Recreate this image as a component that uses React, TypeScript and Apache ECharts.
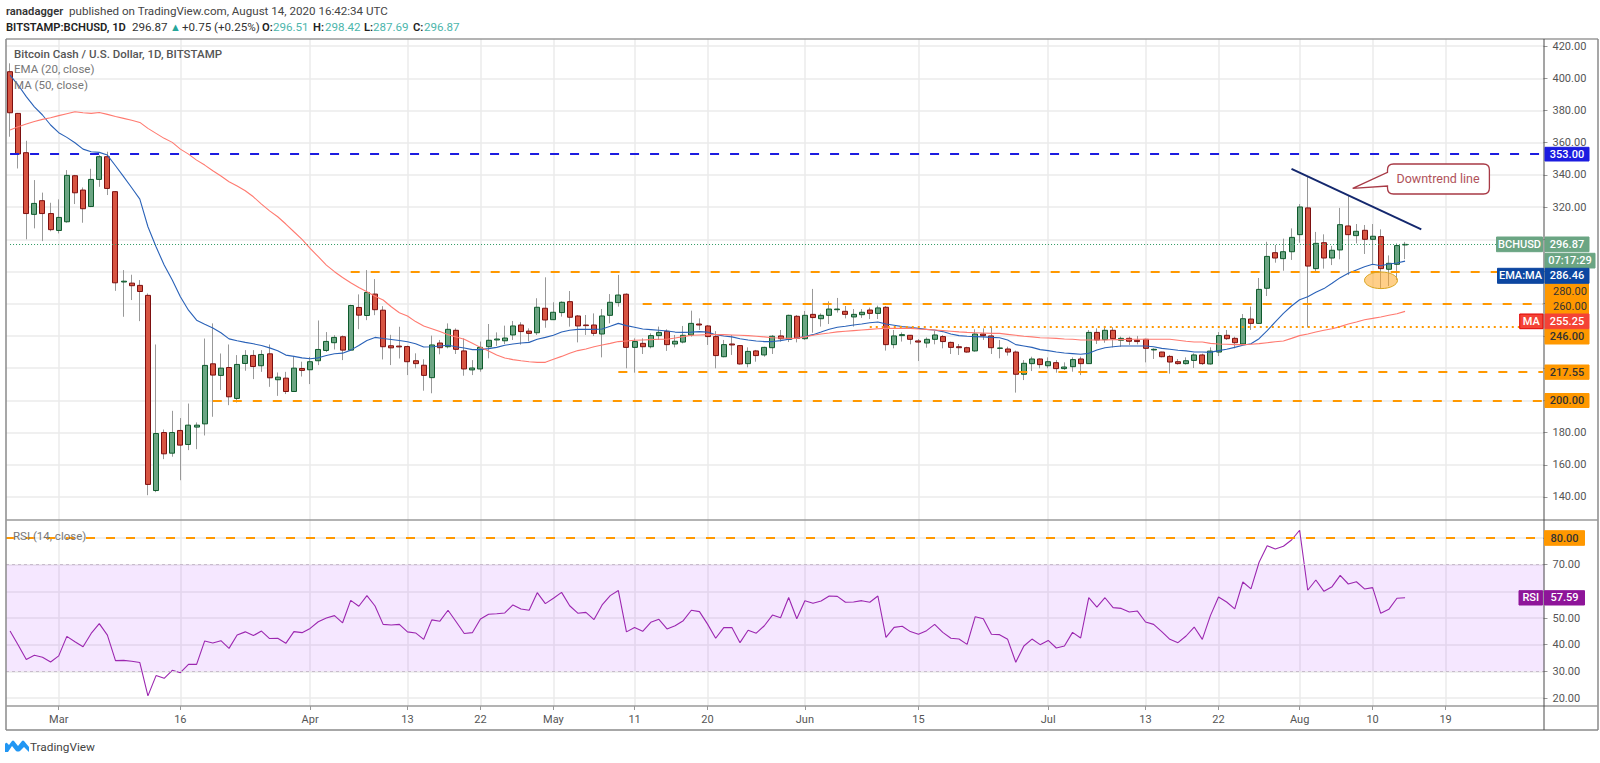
import React, { useEffect, useRef } from "react";
import * as echarts from "echarts";

const opens = [404.1,378.2,353.8,315.5,324,316,305.5,310.9,339.5,330.6,
320.4,337.2,351.3,329.6,273.5,272.8,271.4,265.2,144,180,
167.2,181.3,172.6,183.4,185.4,222.7,215.5,220.4,201.2,222.9,
227.9,221.5,228.9,212.8,213.8,205.5,219.8,219,224.6,231,
235.8,239.5,231.2,257.7,252.7,266,256,233.9,233.7,233.4,
224.6,221.8,214.1,235.6,233.3,243.5,230.7,218.9,219.5,233.3,
237.5,237,240.6,246.8,243,242,257.2,250.1,254.5,261.3,
252.4,246.8,246.8,241.2,252.8,260.7,265.9,232.9,235.4,233.3,
240.2,242.9,235,236.2,240.6,247.4,246.2,239.6,227.1,235,
234,222.8,230.7,228.2,232.7,240,237.9,252.2,238.3,253.4,
250.7,252.8,256.3,255.3,251.8,253.2,256.1,254,257.8,234.6,
240.2,240.4,236.9,235.6,237.9,239.6,236,233.3,232.7,230.7,
241.2,240,232.3,231.9,230,216.2,222.8,225.7,221.5,223.4,
219.7,220.9,225.7,222.8,242.2,237.7,243.5,237.3,238.5,237.3,
237.9,231.3,230,227.3,224,222.8,224.8,228.2,222.6,230,
240.4,238.5,235,250.5,247.8,269.6,291.7,288,292.3,302.9,
319.5,281.8,297.9,288.4,293.4,308.3,302.3,305.6,300,301.7,
281.4,284.5,296.51];

const closes = [378.6,353,316,322.3,316,306,313.6,339.7,328.9,319,
337.2,351.3,331.6,273,274,271.2,267.6,147.8,179.4,166.8,
180,172.2,184.6,184.6,221.7,215.7,220,202.2,222.3,227.9,
221,228.5,214,214.4,205.5,220,218.6,224,231.6,236.6,
239.1,231.2,258.9,252.9,267,256.3,233.3,232.6,233.2,224,
222.8,215.5,234.4,232.7,244.1,231.7,219.5,220.1,232.9,237.3,
238.1,238.7,246.2,242.7,241.6,257.8,249.9,254.7,260.9,251.6,
246.2,246.4,241.6,252.4,260.9,265.4,232.9,236.5,233.3,240.2,
242.2,234.6,236.7,240.4,247.8,246.8,239.6,227.8,234.6,234.4,
222.6,230.4,227.8,232.9,239.8,238.3,252.8,238.5,252.8,251.4,
252.8,256.7,256.7,253.4,253.4,254.7,254,257.4,234.6,240,
240.8,237.9,236.2,237.9,240.6,236.5,232.9,232.7,230,241.2,
240.2,232.7,232.5,230,216.2,223,225.7,222.2,224,219.7,
220.7,225.3,222.8,242.2,237.5,243.5,238.3,238.5,236.7,236.5,
232.3,231.7,227.1,223.8,222.8,224.6,228.2,222.8,230.6,240.2,
238.3,235.8,250.7,247.8,268.9,289.4,288.4,292.3,301.2,320.1,
283.4,297.5,288.4,293.2,309.1,302.9,305,300,301.9,281.8,
285.1,296.12,296.87];

const highs = [409.3,378.5,361.2,336.8,329,322.7,324.8,343,340,332.2,
343.8,352.3,354.4,330,280.9,278,274.7,266.4,234.7,181.9,
193.5,189,198,186.3,238.4,247.8,229.1,234.7,228.1,231.2,
231.2,231.2,234.7,217.3,217.7,227,224,227,249.6,242.4,
240.5,240.3,259.4,265.8,280.9,275.3,258.5,240.7,245.7,234,
229.2,225.5,240.2,237.5,247.8,244.7,238.5,225,236.5,247.4,
242.2,246.4,249.3,248.5,244.7,263.4,276.4,260.9,261.5,267.9,
253,253,254,256.7,266,277.9,266.5,238.5,238.5,241.6,
245.8,244.1,240.6,246.2,255.7,250.9,246.8,243,237.5,240.6,
234.2,232.9,231.3,233.3,240.6,243.7,253.2,253,255.5,269.2,
254,261.5,263.6,258.6,256.7,256.7,257.6,258.8,258.6,243.7,
242.2,240.6,238.1,239.1,243.3,240.6,236.5,235,233.3,244.1,
244.7,245.8,237.5,233.3,230.9,225,227.1,226.1,226.7,225,
223.6,226.7,227.1,243.7,244.7,246.2,245.4,239.6,239.6,240,
238.3,232.3,230.2,228.2,225.7,226.7,229.2,229,232.9,242.4,
243.7,239.5,253.6,258.2,276,298.5,296.5,300.4,306.8,321.9,
339.3,304.6,303.1,295.9,319.5,326.9,309.5,308.9,309.5,306.2,
290,297.5,298.42];

const lows = [363.7,344,300,306.8,298.9,305,303.7,310.3,321.9,310.3,
320,332.6,327.5,268,251.9,262.3,249.2,141.1,143,163.5,
165,150.4,169.1,169.7,178.2,189.8,206.4,197,198.7,218.4,
213.2,217.7,208.4,202.8,203.9,205.3,214.8,210.1,221.9,230,
231.6,225,231,244.2,249.8,252.9,225.4,221.9,226,215.7,
219.9,206,204.4,228.6,232.3,228.8,215.3,215.7,217.8,226.1,
233.8,235,237.5,234.6,236.5,240.6,245.1,249.9,252,245.8,
236,240.6,240,226.7,247.8,258.2,219.9,217.2,228.8,232.3,
237.5,230.7,232.9,235.4,239.6,243.7,234.4,219.9,226.7,228.2,
222.2,220.5,224,227.1,228.8,236.5,236.2,236,237.5,242,
245.8,247.4,254.5,250.9,245.8,251.2,250.5,250.5,230.9,232.3,
236.5,234.8,224.4,232.7,234.8,232.3,228.8,228.2,229.6,230.2,
237.5,228.8,226.1,227.8,204.8,212.6,218.2,219.9,219.9,217.2,
218.9,217.8,215.7,222.6,235,235.8,232.9,233.3,234.4,234.8,
223.6,225.7,226.7,216.6,222.2,222.2,220.1,222,222.2,227.5,
237.5,232.3,234.6,243.7,247.4,264.8,285.5,280.5,287.2,297.9,
245.3,279.5,281.8,284,287.6,277.8,297.5,290.9,284,269.6,
271,274.7,287.69];

const ema20 = [402,395.8,388.6,382.3,377.2,371,366.2,363.3,360,356,
354.4,354,352.3,345.7,338.9,332,325,307.8,295.4,284,
274.7,264.3,256,249.8,247.3,244.9,242,238.2,237,236,
235.1,234.1,232.6,230.8,228.1,227.3,226.4,225.8,226.4,227.9,
228.9,229.3,231.2,234.1,237.2,239.1,238.4,237.8,237.2,236.4,
235.2,233.1,233.3,233.8,234.2,233.3,232.5,231.5,231.5,232.1,
232.9,234.2,235,235.6,236,237.9,239.1,240.4,242.4,243.5,
244.1,244.1,244.1,244.3,246,247.8,246.4,245.4,244.3,243.9,
243.5,243.1,242.4,242.2,242.4,242.7,242.4,240.8,240,239.4,
238.3,237.5,236.9,236.5,236.5,237.1,237.9,238.7,239.6,240.8,
242.4,244.1,245.4,246,246.8,247.4,248.2,248.7,247.4,246.6,
245.8,245.4,244.7,244.1,243.7,242.7,241.2,240.2,239.8,239.6,
239.4,239.1,238.9,237.5,234.6,233.8,232.9,231.5,230.9,230,
229.4,229,228.6,229.2,231.3,232.7,233.3,233.8,233.8,233.8,
233.8,233.3,232.3,231.7,231.1,230.7,230,230,229.8,230.9,
231.7,232.9,234.2,235.2,238.3,243.3,248.7,254,258.6,262.5,
264.4,267.1,269.4,272.7,276.2,278.9,281,283,284.5,283.6,
284.7,285.3,286.46];

const ma50 = [367.9,369.9,371.6,373.2,374.5,375.5,376.8,378,379.2,378.6,
378.2,378.8,377.6,376.3,375.1,373.9,372.6,368.9,365.8,362.7,
360.2,356,352.9,349.2,346.1,342.6,339.3,335.8,333.1,330.2,
326.4,321.9,317.7,314,309.5,304.7,300,294.4,289.2,284,
279.9,276.3,273,270.1,267.4,264.7,262.3,258.1,254.4,252.4,
248.9,246.2,244.5,242.7,240.8,239.4,237.9,235.4,232.9,230.6,
228.2,226.3,225.3,224.6,224,223.6,223.6,225.5,227.3,229.2,
230.9,231.9,233.3,234.4,235.4,236.5,236.9,237.3,237.5,237.7,
237.9,237.9,238.7,239.6,240.4,240.6,240.8,240.8,240.8,240.6,
240.4,240.2,239.8,239.4,238.9,238.7,238.5,238.5,239.4,240.4,
241.2,241.8,242.5,242.9,243.3,243.7,244.1,244.5,244.7,244.7,
244.7,244.7,244.3,244.1,243.7,243.3,242.9,242.5,242.2,242,
241.8,241.6,241.6,241,240.4,239.8,239.4,238.9,238.7,238.5,
238.1,237.9,237.5,237.5,237.5,237.5,237.7,237.7,237.9,237.9,
237.9,237.9,237.9,237.9,237.3,236.7,236.2,236.2,235.4,235,
234.8,234.6,234.6,234.8,235.2,235.8,236.4,236.9,238.5,240.2,
241.2,242.4,243.5,244.5,245.8,247.4,248.7,250.1,250.9,251.8,
252.8,253.8,255.25];

const rsi14 = [45.1,39.9,34.4,36,35.3,33.5,35.8,43.1,41.1,39.2,
44.2,47.9,43.6,34,34.1,33.8,33.3,20.8,28.4,27.4,
30.4,29.5,32.6,32.6,41.4,40.6,41.5,38.6,43.6,44.8,
43.4,45.1,42.3,42.4,40.5,44.9,44.5,46.1,48.6,50,
50.9,48.2,56.6,54.4,58.4,54.5,47.6,47.4,47.6,44.8,
44.4,42,49.3,48.8,52.9,48.6,44.2,44.5,49.6,51.4,
51.6,51.9,54.9,53.4,52.9,59.5,55.4,57.4,59.6,54.6,
51.8,52.1,49.4,54.9,58.4,60.3,44.8,46.4,45,48.4,
49.5,45.9,47.1,49,52.9,52.4,47.7,42.4,46.4,46.4,
40.75,45.4,44.3,47.1,51.1,50.1,57.7,49.7,56.5,55.5,
56.4,58.25,58.1,55.9,56,56.5,55.9,58.25,42.75,46.5,
46.9,44.9,43.9,45.25,47.6,44.6,42.4,42.1,40.1,50.5,
49.75,43.9,43.75,42,33.4,39.5,42.1,40,41.6,38.75,
39.5,44.6,42.5,57.6,54.1,57.6,53.9,53.6,52.25,52.6,
48.5,47.6,44.9,42,40.75,43.25,46.6,42,50.9,57.9,
56,53.4,63.5,60.9,70.9,77.1,75.9,76.9,79.25,82.9,
60.4,64.25,60,61.75,66,62.75,63.6,60.9,61.4,51.75,
53.25,57.4,57.59];

const priceTicks = [140,160,180,200,220,240,260,280,300,320,340,360,380,400,420];
const priceLabels = [140,160,180,320,340,360,380,400,420];
const rsiTicks = [20,30,40,50,60,70,80];
const rsiLabels = [20,30,40,50,70];
const tickIndexes = [6,21,37,49,58,67,77,86,98,112,128,140,149,159,168,177];
const tickLabels = ["Mar","16","Apr","13","22","May","11","20","Jun","15","Jul","13","22","Aug","10","19"];

const dashedLevels = [353,280,260,217.55,200];
const dashedStarts = [0,42,78,75,25];
const dottedLevel = 246;
const dottedStart = 106;
const lastPrice = 296.87;
const trendStart = [158,343.7];
const trendEnd = [174,306.2];

const TOTAL = 190;
const categories: string[] = [];
for (let i = 0; i < TOTAL; i++) {
  categories.push(new Date(Date.UTC(2020, 1, 24 + i)).toISOString().slice(0, 10));
}
const tickSet = new Set(tickIndexes);
const labelByCat: Record<string, string> = {};
tickIndexes.forEach((idx, k) => { labelByCat[categories[idx]] = tickLabels[k]; });
const isTick = (i: number) => tickSet.has(i);

const FONT = "Roboto, 'Open Sans', sans-serif";
const ORANGE = "#ff9800";
const LAST = TOTAL - 1;

function box(x: number, y: number, w: number, h: number, fill: string, text: string, color = "#fff", stroke?: string) {
  return [
    { type: "rect", z: 20, silent: true, shape: { x, y, width: w, height: h }, style: { fill, stroke: stroke || fill, lineWidth: 1 } },
    { type: "text", z: 21, silent: true, style: { x: x + w / 2, y: y + h / 2, text, fill: color, font: `500 11px ${FONT}`, textAlign: "center", textVerticalAlign: "middle" } },
  ];
}
function txt(x: number, y: number, text: string, fill: string, font: string) {
  return { type: "text", z: 21, silent: true, style: { x, y, text, fill, font, textAlign: "left", textVerticalAlign: "middle" } };
}
function frameLine(x1: number, y1: number, x2: number, y2: number, stroke: string, lineWidth: number) {
  return { type: "line", z: 19, silent: true, shape: { x1, y1, x2, y2 }, style: { stroke, lineWidth } };
}

export default function App() {
  const ref = useRef<HTMLDivElement>(null);
  useEffect(() => {
    if (!ref.current) return;
    echarts.graphic.registerShape("callout", echarts.graphic.extendPath(
      "M1393.5 164 L1483.4 164 Q1489.4 164 1489.4 170 L1489.4 188 Q1489.4 194 1483.4 194 L1393.5 194 Q1387.5 194 1387.5 188 L1387.5 186 L1352.7 188.3 L1387.5 172.3 L1387.5 170 Q1387.5 164 1393.5 164 Z", {}) as any);
    echarts.graphic.registerShape("tvlogo", echarts.graphic.extendPath(
      "M5 752 L8 752 L12 746 L16 751 Q18 752 20 751 L24 747 L29 752 L29 747 L24 741 Q23 740 22 741 L18 746 L14 741 Q13 740 12 741 L9 745 L7 743 Q6 742 5 744 Z", {}) as any);

    const chart = echarts.init(ref.current, undefined, { renderer: "svg" });
    const wickData = opens.map((o, i) => [o, closes[i], lows[i], highs[i]]);
    const bodyData = opens.map((o, i) => [o, closes[i], Math.min(o, closes[i]), Math.max(o, closes[i])]);

    const levelLines: any[] = dashedLevels.map((v, k) => {
      const color = k === 0 ? "#1c1ce0" : ORANGE;
      return [
        { coord: [categories[dashedStarts[k]], v], lineStyle: { color, type: [9, 11], width: 2 } },
        { coord: [categories[LAST], v] },
      ];
    });
    levelLines.push([
      { coord: [categories[dottedStart], dottedLevel], lineStyle: { color: ORANGE, type: [2, 4], width: 2 } },
      { coord: [categories[LAST], dottedLevel] },
    ]);
    levelLines.push([
      { coord: [categories[0], lastPrice], lineStyle: { color: "#2f9a63", type: [1, 2], width: 1 } },
      { coord: [categories[LAST], lastPrice] },
    ]);
    levelLines.push([
      { coord: [categories[trendStart[0]], trendStart[1]], lineStyle: { color: "#14286e", type: "solid", width: 2 } },
      { coord: [categories[trendEnd[0]], trendEnd[1]] },
    ]);

    const H1 = `400 11.6px ${FONT}`;
    const B1 = `600 11.2px ${FONT}`;
    const graphics: any[] = [
      { type: "rect", z: 5, silent: true, shape: { x: 1544.5, y: 39, width: 4, height: 692 }, style: { fill: "#fff" } },
      frameLine(6, 39, 1598, 39, "#9a9a9a", 1.5),
      frameLine(6, 39, 6, 730, "#8a8a8a", 1.5),
      frameLine(1598, 39, 1598, 730, "#8a8a8a", 1.5),
      frameLine(6, 730, 1598, 730, "#8a8a8a", 1.5),
      frameLine(6, 520, 1598, 520, "#9a9a9a", 1.5),
      frameLine(6, 706, 1598, 706, "#9a9a9a", 1.5),
      frameLine(1544, 39, 1544, 730, "#4a4a4a", 1),
      txt(6, 11, "ranadagger", "#333", B1),
      txt(69, 11, "published on TradingView.com, August 14, 2020 16:42:34 UTC", "#444", H1),
      txt(6, 27, "BITSTAMP:BCHUSD, 1D", "#222", B1),
      txt(132, 27, "296.87", "#333", H1),
      txt(170, 27, "▲", "#26a69a", `400 11px ${FONT}`),
      txt(182, 27, "+0.75 (+0.25%)", "#333", H1),
      txt(262, 27, "O:", "#222", B1),
      txt(273, 27, "296.51", "#4db6ac", H1),
      txt(313, 27, "H:", "#222", B1),
      txt(325, 27, "298.42", "#4db6ac", H1),
      txt(364, 27, "L:", "#222", B1),
      txt(373, 27, "287.69", "#4db6ac", H1),
      txt(413, 27, "C:", "#222", B1),
      txt(424, 27, "296.87", "#4db6ac", H1),
      txt(14, 54, "Bitcoin Cash / U.S. Dollar, 1D, BITSTAMP", "#555", `500 11.5px ${FONT}`),
      txt(14, 69, "EMA (20, close)", "#777", `400 11.5px ${FONT}`),
      txt(14, 85, "MA (50, close)", "#777", `400 11.5px ${FONT}`),
      txt(13, 536, "RSI (14, close)", "#777", `400 11.5px ${FONT}`),
      { type: "callout", z: 18, silent: true, style: { fill: "#fff", stroke: "#a83a46", lineWidth: 1.3 } },
      { type: "text", z: 21, silent: true, style: { x: 1438, y: 178.5, text: "Downtrend line", fill: "#b0525a", font: `400 12.5px ${FONT}`, textAlign: "center", textVerticalAlign: "middle" } },
      { type: "ellipse", z: 6, silent: true, shape: { cx: 1381, cy: 280.3, rx: 16.5, ry: 8.3 }, style: { fill: "rgba(255,167,38,0.55)", stroke: "#d9a520", lineWidth: 1 } },
      ...box(1545, 147.3, 44, 13.7, "#1c1ce0", "353.00"),
      { type: "rect", z: 20, silent: true, shape: { x: 1545, y: 283.3, width: 44, height: 31 }, style: { fill: ORANGE } },
      txt(1553, 291, "280.00", "#333", `400 11px ${FONT}`),
      txt(1553, 306, "260.00", "#333", `400 11px ${FONT}`),
      ...box(1545, 328.7, 44, 15.3, ORANGE, "246.00", "#333"),
      ...box(1545, 365, 44, 14.3, ORANGE, "217.55", "#333"),
      ...box(1545, 393.5, 44, 14, ORANGE, "200.00", "#333"),
      ...box(1496.5, 237, 46, 14.7, "#6ba583", "BCHUSD"),
      ...box(1545, 237, 44, 14.7, "#6ba583", "296.87"),
      ...box(1545, 253.3, 50, 14.7, "#6ba583", "07:17:29"),
      ...box(1497.5, 268.3, 46, 15, "#0d47a1", "EMA:MA"),
      ...box(1545, 268.3, 44, 15, "#0d47a1", "286.46"),
      ...box(1519.7, 314, 23.3, 14.7, "#f44336", "MA", "#fff", "#e00000"),
      ...box(1545, 314, 44, 14.7, "#f44336", "255.25"),
      ...box(1544.5, 530.7, 40, 14.6, ORANGE, "80.00", "#333"),
      ...box(1519, 590.7, 23.6, 14.3, "#8e1599", "RSI"),
      ...box(1544.5, 590.7, 40, 14.3, "#8e1599", "57.59"),
      { type: "tvlogo", z: 21, silent: true, style: { fill: "#2196f3" } },
      txt(30, 747, "TradingView", "#444", `400 11.8px ${FONT}`),
    ];

    const gridLineStyle = { color: "#ebebeb", width: 1.5 };
    chart.setOption({
      animation: false,
      backgroundColor: "#fff",
      grid: [
        { left: 6, top: 39, width: 1541, height: 481, containLabel: false },
        { left: 6, top: 520, width: 1541, height: 186, containLabel: false },
      ],
      xAxis: [
        {
          type: "category", gridIndex: 0, data: categories, boundaryGap: true,
          axisLine: { show: false }, axisTick: { show: false }, axisLabel: { show: false },
          splitLine: { show: true, interval: isTick, alignWithLabel: true, lineStyle: gridLineStyle },
        },
        {
          type: "category", gridIndex: 1, data: categories, boundaryGap: true,
          axisLine: { show: false },
          axisTick: { show: true, interval: isTick, alignWithLabel: true, length: 4, lineStyle: { color: "#999" } },
          axisLabel: {
            show: true, interval: isTick, margin: 8, color: "#555", fontFamily: FONT, fontSize: 11,
            formatter: (v: string) => labelByCat[v] || "",
          },
          splitLine: { show: true, interval: isTick, alignWithLabel: true, lineStyle: gridLineStyle },
        },
      ],
      yAxis: [
        {
          type: "value", gridIndex: 0, position: "right", min: 125.7, max: 424.4, scale: true,
          axisLine: { show: false }, axisLabel: { show: false },
          axisTick: { show: false, customValues: priceTicks },
          splitLine: { show: true, lineStyle: gridLineStyle },
        },
        {
          type: "value", gridIndex: 0, position: "right", offset: -3.5, z: 6, min: 125.7, max: 424.4, scale: true,
          axisLine: { show: false }, splitLine: { show: false },
          axisTick: { show: true, length: 4, lineStyle: { color: "#999" }, customValues: priceTicks },
          axisLabel: {
            show: true, inside: false, margin: 9, color: "#555", fontFamily: FONT, fontSize: 11,
            customValues: priceLabels, formatter: (v: number) => v.toFixed(2),
          },
        },
        {
          type: "value", gridIndex: 1, position: "right", min: 17, max: 86.75, scale: true,
          axisLine: { show: false }, axisLabel: { show: false },
          axisTick: { show: false, customValues: rsiTicks },
          splitLine: { show: true, lineStyle: gridLineStyle },
        },
        {
          type: "value", gridIndex: 1, position: "right", offset: -3.5, z: 6, min: 17, max: 86.75, scale: true,
          axisLine: { show: false }, splitLine: { show: false },
          axisTick: { show: true, length: 4, lineStyle: { color: "#999" }, customValues: rsiTicks },
          axisLabel: {
            show: true, margin: 9, color: "#555", fontFamily: FONT, fontSize: 11,
            customValues: rsiLabels, formatter: (v: number) => v.toFixed(2),
          },
        },
      ],
      series: [
        {
          name: "Wicks", type: "candlestick", xAxisIndex: 0, yAxisIndex: 0, data: wickData, barWidth: 1, z: 2,
          itemStyle: { color: "#999", color0: "#999", borderColor: "#999", borderColor0: "#999", borderWidth: 1 },
        },
        {
          name: "BCHUSD", type: "candlestick", xAxisIndex: 0, yAxisIndex: 0, data: bodyData, barWidth: 5.5, z: 3,
          itemStyle: { color: "#6ba583", color0: "#d75442", borderColor: "#0f5a2c", borderColor0: "#7d1010", borderWidth: 1 },
        },
        {
          name: "EMA 20", type: "line", xAxisIndex: 0, yAxisIndex: 0, data: ema20, showSymbol: false, z: 4,
          lineStyle: { color: "#2a62b8", width: 1.1 },
        },
        {
          name: "MA 50", type: "line", xAxisIndex: 0, yAxisIndex: 0, data: ma50, showSymbol: false, z: 4,
          lineStyle: { color: "#ff7a70", width: 1.1 },
        },
        {
          name: "Levels", type: "line", xAxisIndex: 0, yAxisIndex: 0, data: [], z: 5,
          markLine: { silent: true, symbol: "none", label: { show: false }, animation: false, data: levelLines },
        },
        {
          name: "RSI", type: "line", xAxisIndex: 1, yAxisIndex: 2, data: rsi14, showSymbol: false, z: 4,
          lineStyle: { color: "#9c27b0", width: 1.1 },
          markArea: { silent: true, itemStyle: { color: "rgba(170,60,255,0.12)" }, data: [[{ yAxis: 70 }, { yAxis: 30 }]] },
          markLine: {
            silent: true, symbol: "none", label: { show: false }, animation: false,
            data: [
              { yAxis: 80, lineStyle: { color: ORANGE, type: [9, 11], width: 2 } },
              { yAxis: 70, lineStyle: { color: "#c8bccc", type: [3, 3], width: 1 } },
              { yAxis: 30, lineStyle: { color: "#c8bccc", type: [3, 3], width: 1 } },
            ],
          },
        },
      ],
      graphic: graphics,
    });
    return () => chart.dispose();
  }, []);
  return <div ref={ref} style={{ position: "fixed", left: 0, top: 0, width: 1600, height: 763 }} />;
}
